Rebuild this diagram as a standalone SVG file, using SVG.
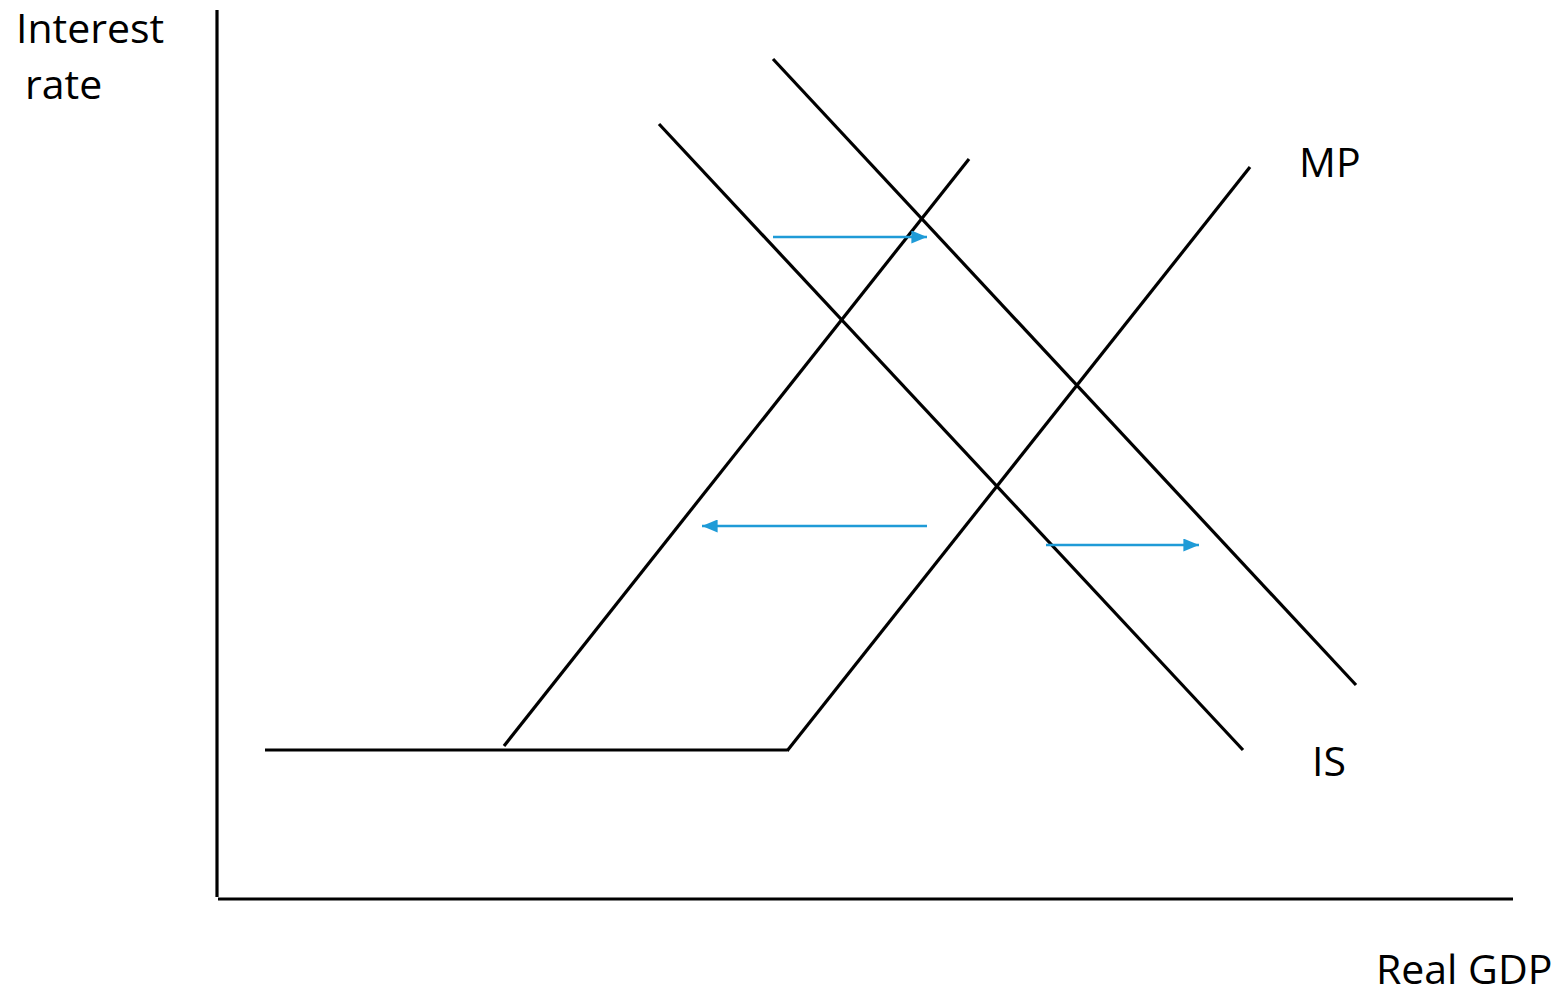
<svg xmlns="http://www.w3.org/2000/svg" width="1563" height="997" viewBox="0 0 1563 997">
<defs>
<style>
.ax{stroke:#000;stroke-width:3.2;fill:none}
.ln{stroke:#000;stroke-width:3.2;fill:none}
.ar{stroke:#1f9bd7;stroke-width:2.5;fill:none}
.t{font-family:"Open Sans","Liberation Sans",sans-serif;font-size:41px;fill:#000}
</style>
<marker id="ah" viewBox="0 0 12 10" refX="12" refY="5" markerWidth="6.4" markerHeight="5.2" markerUnits="strokeWidth" orient="auto">
<path d="M0,0 L12,5 L0,10 Z" fill="#1f9bd7"/>
</marker>
</defs>
<rect width="1563" height="997" fill="#fff"/>
<g id="axes">
<line class="ax" x1="217" y1="10" x2="217" y2="897"/>
<line class="ax" x1="218" y1="899" x2="1513" y2="899"/>
</g>
<g id="labels">
<text class="t" x="16" y="43">Interest</text>
<text class="t" x="25" y="99">rate</text>
<text class="t" x="1299" y="177">MP</text>
<text class="t" x="1312" y="776">IS</text>
<text class="t" x="1376" y="984">Real GDP</text>
</g>
<g id="curves">
<line id="floor" class="ln" x1="265" y1="750" x2="787" y2="750"/>
<line id="MP1" class="ln" x1="504" y1="746" x2="969" y2="159"/>
<line id="MP2" class="ln" x1="787" y1="751" x2="1250" y2="167"/>
<line id="IS1" class="ln" x1="659" y1="124" x2="1243" y2="750"/>
<line id="IS2" class="ln" x1="773" y1="59" x2="1356" y2="685"/>
</g>
<g id="connectors">
<line class="ar" x1="773" y1="237" x2="927" y2="237" marker-end="url(#ah)"/>
<line class="ar" x1="927" y1="526" x2="702" y2="526" marker-end="url(#ah)"/>
<line class="ar" x1="1046" y1="545" x2="1199" y2="545" marker-end="url(#ah)"/>
</g>
</svg>
